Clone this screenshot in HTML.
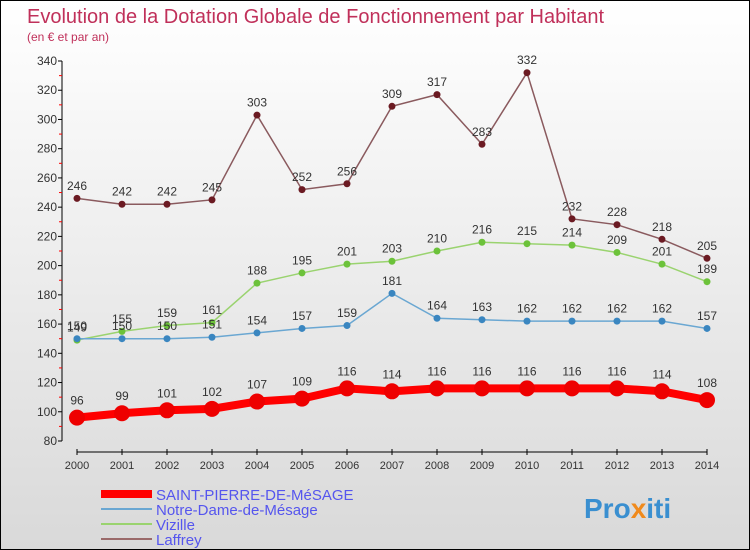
<!DOCTYPE html>
<html><head><meta charset="utf-8"><style>
body{margin:0}
#c{width:750px;height:550px;position:relative;background:linear-gradient(#fff,#d9d9d9);border:1px solid #000;box-sizing:border-box;overflow:hidden;font-family:"Liberation Sans",sans-serif}
svg text{font-family:"Liberation Sans",sans-serif}
</style></head><body>
<div id="c">
<svg id="s" width="750" height="550">
<text x="26" y="22" font-size="20" fill="#c0305a">Evolution de la Dotation Globale de Fonctionnement par Habitant</text>
<text x="26" y="40" font-size="12" fill="#c0305a">(en € et par an)</text>
<text x="583" y="517" font-size="28" font-weight="bold" fill="#3a8fd0">Pro<tspan fill="#f08a1c">x</tspan>iti</text>
</svg></div>
<script>
const years=[2000,2001,2002,2003,2004,2005,2006,2007,2008,2009,2010,2011,2012,2013,2014];
const yTicks=[80,100,120,140,160,180,200,220,240,260,280,300,320,340];
const seriesNames=["SAINT-PIERRE-DE-MéSAGE","Notre-Dame-de-Mésage","Vizille","Laffrey"];
const stPierre=[96,99,101,102,107,109,116,114,116,116,116,116,116,114,108];
const notreDame=[150,150,150,151,154,157,159,181,164,163,162,162,162,162,157];
const vizille=[149,155,159,161,188,195,201,203,210,216,215,214,209,201,189];
const laffrey=[246,242,242,245,303,252,256,309,317,283,332,232,228,218,205];
const NS="http://www.w3.org/2000/svg",s=document.getElementById('s');
const X=i=>76+45*i, Y=v=>440-(v-80)*380/260;
function el(t,a,p){const e=document.createElementNS(NS,t);for(const k in a)e.setAttribute(k,a[k]);(p||s).appendChild(e);return e;}
let ax=el('line',{x1:61,y1:60,x2:61,y2:440,stroke:'#000'});


yTicks.forEach(v=>{el('line',{x1:57,x2:61,y1:Y(v),y2:Y(v),stroke:'#000'});
 if(v<340)el('line',{x1:58,x2:61,y1:Y(v+10),y2:Y(v+10),stroke:'#f00'});
 const t=el('text',{x:56,y:Y(v)+4,'text-anchor':'end','font-size':12,fill:'#333'});t.textContent=v;
 
 });
el('line',{x1:X(0),x2:X(14),y1:451,y2:451,stroke:'#000'});
years.forEach((y,i)=>{el('line',{x1:X(i),x2:X(i),y1:448,y2:454,stroke:'#000'});
 const t=el('text',{x:X(i),y:468,'text-anchor':'middle','font-size':11,fill:'#333'});t.textContent=y;
 
 });
const defs=[[laffrey,'#6b1a22','#8a5a5e',1.5,3.5,'laffrey'],[vizille,'#6cc23a','#9ad36f',1.5,3.5,'vizille'],[notreDame,'#3a86c0','#6aa7d2',1.5,3.5,'notre-dame'],[stPierre,'#e00','#f00',8,8,'saint-pierre']];
defs.forEach(([d,c,lc,w,r,n])=>{
 const p=el('polyline',{points:d.map((v,i)=>X(i)+','+Y(v)).join(' '),fill:'none',stroke:lc,'stroke-width':w});
 
 
 d.forEach((v,i)=>{const m=el('circle',{cx:X(i),cy:Y(v),r:r,fill:c});
  
  
  const t=el('text',{x:X(i),y:Y(v)-(r+5),'text-anchor':'middle','font-size':12,fill:'#333'});t.textContent=v;
  
  });
});
const lc=['#f00','#6aa7d2','#9ad36f','#9a6a6a'],lw=[8,2,2,2];
seriesNames.forEach((n,i)=>{const y=493+i*15;
 el('line',{x1:100,x2:151,y1:y,y2:y,stroke:lc[i],'stroke-width':lw[i]});
 const t=el('text',{x:155,y:y+6,'font-size':15,fill:'#5555ee'});t.textContent=n;
 
 });
</script>
</body></html>
